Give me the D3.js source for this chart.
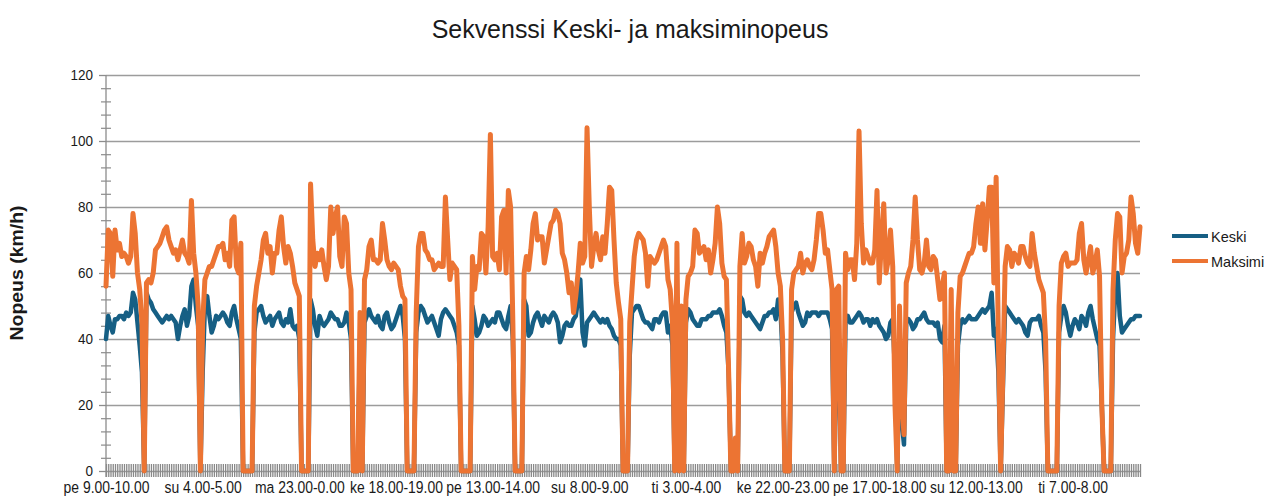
<!DOCTYPE html>
<html lang="fi">
<head>
<meta charset="UTF-8">
<title>Sekvenssi Keski- ja maksiminopeus</title>
<script src="https://cdn.jsdelivr.net/npm/d3@7"></script>
<style>
  body { margin: 0; background: #fff; }
  text { font-family: "Liberation Sans", Arial, sans-serif; fill: #1a1a1a; }
</style>
</head>
<body>
<script>
// hourly sequence starting friday 9.00
var days = ["pe", "la", "su", "ma", "ti", "ke", "to"];
var startHour = 9;
var labelEvery = 43;
var yTicks = [0, 20, 40, 60, 80, 100, 120];

var keski = [
  40,47,44,42,46,46,47,47,46,48,47,48,54,52,45,38,30,0,
  54,52,51,49,48,47,46,45,46,47,46,47,46,45,40,44,47,49,44,47,56,58,50,44,0,30,50,53,47,42,44,47,46,
  47,48,47,45,44,48,50,46,43,40,
  0,0,0,0,0,
  42,48,49,50,47,45,46,47,44,46,47,48,45,44,46,45,49,44,43,44,40,
  0,0,0,0,
  52,49,44,41,47,45,44,45,46,48,47,46,46,44,44,45,48,45,40,
  0,0,0,40,0,
  45,47,49,47,46,45,47,44,43,47,48,45,43,44,46,48,50,47,40,
  0,0,0,0,
  42,48,50,49,47,45,46,47,45,43,41,46,48,49,48,47,46,44,42,38,
  0,0,0,0,0,
  50,46,41,42,44,47,46,44,45,46,45,48,48,46,44,43,47,50,40,
  0,0,0,0,
  52,50,41,42,45,47,48,46,44,47,46,45,47,48,47,45,39,41,44,45,44,44,46,47,52,58,42,38,45,46,47,48,47,46,45,46,45,46,44,43,41,40,40,38,
  0,0,0,
  35,48,49,50,50,48,46,45,45,44,43,46,46,45,47,48,48,42,44,38,
  0,44,0,40,0,
  45,49,48,46,45,44,44,46,46,46,47,47,48,48,48,49,47,44,42,
  30,0,0,5,0,
  53,52,48,47,48,47,46,45,44,43,45,47,47,48,48,49,46,52,50,35,
  0,0,0,
  48,50,51,48,46,44,45,48,47,48,48,48,47,48,48,48,48,46,43,
  0,35,38,0,0,
  46,47,45,45,46,47,48,47,45,46,46,44,46,45,46,44,43,42,40,41,45,46,
  30,0,35,15,8,
  45,46,45,43,44,46,46,47,48,46,45,45,45,44,45,40,39,44,
  0,0,38,0,0,
  38,44,46,45,46,47,46,46,46,47,48,49,48,49,50,54,41,43,30,
  0,25,
  50,49,48,47,46,45,46,45,44,42,41,45,46,46,46,47,44,42,30,
  0,0,0,0,0,
  42,47,50,48,44,41,44,46,45,43,47,46,44,48,50,46,43,40,38,
  20,
  0,0,0,0,
  40,55,60,47,42,43,44,45,46,46,47,47,47
];

var maksimi = [
  56,73,72,59,73,67,69,65,66,65,63,65,78,72,60,55,45,0,
  57,58,57,60,67,68,69,71,73,74,70,68,66,67,64,67,70,66,65,63,82,66,60,50,0,45,58,60,62,62,64,66,68,
  68,69,64,66,62,76,77,62,60,69,
  0,0,0,0,0,
  50,56,60,64,70,72,66,68,60,66,66,73,77,68,63,68,66,62,57,55,53,
  0,0,0,0,
  87,70,62,66,64,67,62,58,62,80,72,77,80,65,62,77,75,60,55,
  0,0,0,48,0,
  58,61,68,70,64,64,63,64,75,70,64,62,61,63,62,61,56,53,52,
  0,0,0,0,
  48,68,72,72,67,66,64,64,61,62,63,62,62,83,70,58,63,62,61,44,
  0,0,0,0,0,
  65,55,62,61,72,71,60,74,102,65,64,66,61,77,79,60,85,80,45,
  0,0,0,0,
  60,65,61,67,75,78,70,71,71,63,67,71,75,76,79,78,75,66,64,60,54,57,48,53,60,69,63,65,104,80,62,68,72,67,64,71,66,75,86,85,70,57,51,46,
  0,0,0,
  45,55,65,70,72,71,70,66,56,65,64,63,64,66,68,70,68,58,55,45,
  0,69,0,50,0,
  52,59,60,62,73,72,66,67,68,64,67,60,64,69,80,75,63,59,58,
  30,0,0,10,0,
  62,72,63,65,69,68,64,62,56,66,63,66,68,71,72,73,68,60,56,40,
  0,0,0,
  55,60,61,62,66,60,63,64,62,61,64,70,78,78,73,66,67,61,55,
  0,55,56,0,0,
  66,61,64,64,58,69,103,75,63,67,65,63,63,67,85,57,70,81,60,64,73,62,
  20,0,50,22,11,
  57,60,62,70,83,70,61,60,63,70,62,61,65,64,58,52,56,60,
  0,0,55,0,0,
  48,59,60,62,64,66,66,68,75,80,69,81,67,76,86,86,57,89,40,
  0,30,
  62,68,67,62,66,65,63,68,68,65,63,62,72,66,62,58,56,54,40,
  0,0,0,0,0,
  50,63,65,66,62,63,63,63,64,72,75,64,60,64,68,60,63,67,59,
  20,
  0,0,0,0,
  55,70,78,77,60,65,66,70,83,78,69,66,74
];

var categories = keski.map(function(d, i) {
  var t = startHour + i;
  var h = t % 24;
  return days[Math.floor(t / 24) % 7] + " " + h + ".00-" + ((h + 1) % 24) + ".00";
});

var width = 1266, height = 502;
var plotLeft = 106, plotRight = 1140, plotTop = 75, plotBottom = 471;
var blue = "#165f84", orange = "#ec7433";

var svg = d3.select("body").append("svg")
  .attr("width", width)
  .attr("height", height);

var x = d3.scalePoint().domain(d3.range(keski.length)).range([plotLeft, plotRight]);
var y = d3.scaleLinear().domain([0, 120]).range([plotBottom, plotTop]);

// shrink text horizontally so it matches the narrow font of the original
function squeeze(sel, k) {
  sel.each(function() {
    var w = this.getComputedTextLength();
    d3.select(this).attr("textLength", w * k).attr("lengthAdjust", "spacingAndGlyphs");
  });
}

// gridlines
svg.append("g")
  .attr("transform", "translate(" + plotLeft + ",0)")
  .call(d3.axisLeft(y).tickValues(yTicks).tickSize(-(plotRight - plotLeft)).tickFormat(""))
  .call(function(g) {
    g.select(".domain").remove();
    g.selectAll("line").attr("stroke", "#9c9c9c").attr("stroke-width", 1.4);
  });

// dense category ticks at the bottom
svg.append("g")
  .attr("transform", "translate(0," + (plotBottom - 7) + ")")
  .call(d3.axisBottom(x).tickValues(d3.range(keski.length)).tickSize(13).tickFormat(""))
  .call(function(g) {
    g.select(".domain").remove();
    g.selectAll("line").attr("stroke", "#888888").attr("stroke-width", 1.3);
  });

// minor y ticks
svg.append("g")
  .attr("transform", "translate(" + (plotLeft - 5) + ",0)")
  .call(d3.axisRight(y).tickValues(d3.range(0, 121, 4).filter(function(v) { return v % 20 !== 0; })).tickSize(10).tickFormat(""))
  .call(function(g) {
    g.select(".domain").remove();
    g.selectAll("line").attr("stroke", "#8c8c8c").attr("stroke-width", 1.2);
  });

// y axis with labels
var yAxis = svg.append("g")
  .attr("transform", "translate(" + plotLeft + ",0)")
  .call(d3.axisLeft(y).tickValues(yTicks).tickSize(7).tickPadding(6))
  .call(function(g) {
    g.select(".domain").attr("stroke", "#8c8c8c").attr("stroke-width", 1.3).attr("d", "M0," + plotTop + "V" + (plotBottom + 6));
    g.selectAll("line").attr("stroke", "#8c8c8c").attr("stroke-width", 1.3);
    g.selectAll("text").attr("font-size", 15.5).attr("font-family", null).attr("fill", "#1a1a1a");
  });
squeeze(yAxis.selectAll("text"), 0.87);

// x labels
var xLabels = svg.append("g")
  .attr("transform", "translate(0," + (plotBottom + 7) + ")")
  .call(d3.axisBottom(x)
    .tickValues(d3.range(0, keski.length, labelEvery))
    .tickSize(0).tickPadding(4)
    .tickFormat(function(i) { return categories[i]; }))
  .call(function(g) {
    g.select(".domain").remove();
    g.selectAll("text").attr("font-size", 16).attr("font-family", null).attr("fill", "#1a1a1a");
  });
squeeze(xLabels.selectAll("text"), 0.87);

// series
var line = d3.line()
  .x(function(d, i) { return x(i); })
  .y(function(d) { return y(d); });

svg.append("path")
  .datum(keski)
  .attr("d", line)
  .attr("fill", "none")
  .attr("stroke", blue)
  .attr("stroke-width", 4.5)
  .attr("stroke-linejoin", "round")
  .attr("stroke-linecap", "round");

svg.append("path")
  .datum(maksimi)
  .attr("d", line)
  .attr("fill", "none")
  .attr("stroke", orange)
  .attr("stroke-width", 5)
  .attr("stroke-linejoin", "round")
  .attr("stroke-linecap", "round");

// title
var title = svg.append("text")
  .attr("x", 630)
  .attr("y", 38)
  .attr("text-anchor", "middle")
  .attr("font-size", 26)
  .text("Sekvenssi Keski- ja maksiminopeus");
squeeze(title, 0.96);

// y axis title
var yTitle = svg.append("text")
  .attr("transform", "translate(23,273) rotate(-90)")
  .attr("text-anchor", "middle")
  .attr("font-size", 18)
  .attr("font-weight", "bold")
  .text("Nopeus (km/h)");
squeeze(yTitle, 1.08);

// legend
var legend = svg.append("g").attr("transform", "translate(1172,236)");
[["Keski", blue], ["Maksimi", orange]].forEach(function(d, i) {
  legend.append("line")
    .attr("x1", 0).attr("x2", 36)
    .attr("y1", i * 25).attr("y2", i * 25)
    .attr("stroke", d[1]).attr("stroke-width", 4);
  legend.append("text")
    .attr("x", 39).attr("y", i * 25 + 5.5)
    .attr("font-size", 14.5)
    .text(d[0]);
});
</script>
</body>
</html>
